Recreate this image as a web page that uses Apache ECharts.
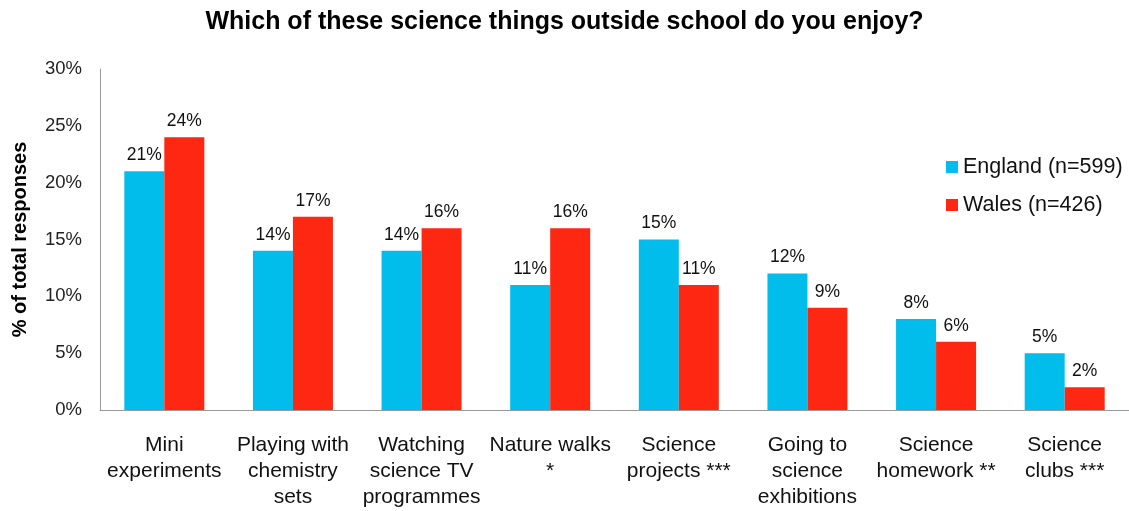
<!DOCTYPE html>
<html><head><meta charset="utf-8">
<script src="https://cdn.jsdelivr.net/npm/echarts@6/dist/echarts.min.js"></script>
<style>html,body{margin:0;padding:0;background:#fff}#c{width:1129px;height:511px}</style>
</head><body><div id="c"></div>
<script>
const categories = ["Mini\nexperiments","Playing with\nchemistry\nsets","Watching\nscience TV\nprogrammes","Nature walks\n*","Science\nprojects ***","Going to\nscience\nexhibitions","Science\nhomework **","Science\nclubs ***"];
const england = [21,14,14,11,15,12,8,5];
const wales = [24,17,16,16,11,9,6,2];
const seriesNames = ["England (n=599)","Wales (n=426)"];
const titleText = "Which of these science things outside school do you enjoy?";
const yAxisName = "% of total responses";

const chart = echarts.init(document.getElementById('c'));
const font = 'Liberation Sans, Arial, sans-serif';
const lbl = {show:true, position:'top', formatter:'{c}%', fontSize:17.5, color:'#111', fontFamily:font, distance:7};
chart.setOption({
  animation:false,
  textStyle:{fontFamily:font},
  title:{text:titleText, left:'center', top:5, textStyle:{fontSize:25, fontWeight:'bold', color:'#000', fontFamily:font}},
  legend:{orient:'vertical', left:941, top:151, itemWidth:12, itemHeight:12, itemGap:16, icon:'rect',
    textStyle:{fontSize:21.5, color:'#111', fontFamily:font}, data:seriesNames},
  grid:{left:100, top:69, width:1035, bottom:101, containLabel:false},
  xAxis:{type:'category', data:categories, axisTick:{show:false},
    axisLine:{lineStyle:{color:'#999'}},
    axisLabel:{interval:0, fontSize:21, lineHeight:26, color:'#111', margin:22, fontFamily:font}},
  yAxis:{type:'value', min:0, max:30, interval:5, name:yAxisName, nameLocation:'middle', nameGap:70,
    nameTextStyle:{fontSize:20, fontWeight:'bold', color:'#000', fontFamily:font},
    axisLine:{show:true, lineStyle:{color:'#999'}}, axisTick:{show:false}, splitLine:{show:false},
    axisLabel:{formatter:'{value}%', fontSize:18.5, color:'#222', margin:18, fontFamily:font}},
  series:[
    {name:seriesNames[0], type:'bar', data:england, barWidth:40, barGap:'0%', itemStyle:{color:'#00BDEC'}, label:lbl},
    {name:seriesNames[1], type:'bar', data:wales, barWidth:40, barGap:'0%', itemStyle:{color:'#FE2712'}, label:lbl}
  ]
});
</script></body></html>
